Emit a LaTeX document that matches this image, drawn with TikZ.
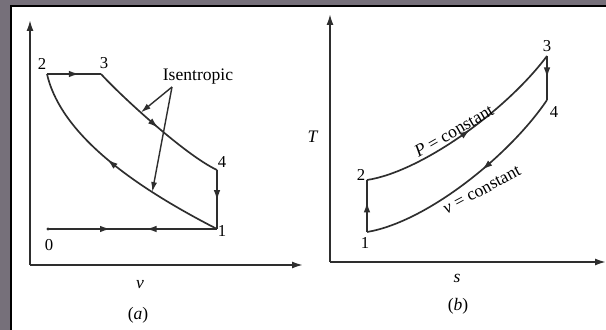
\documentclass[tikz,border=0pt]{standalone}
\usepackage{fontspec}
\setmainfont{Liberation Serif}
\usetikzlibrary{arrows.meta,decorations.markings}
\definecolor{framegrey}{HTML}{76707A}
\definecolor{inkline}{HTML}{2E2E2E}

\begin{document}
\begin{tikzpicture}[
  x=0.02cm, y=-0.02cm,
  >=Latex,
  curve/.style={draw=inkline, line width=0.95pt},
  axis/.style={-{Latex[length=2.2mm,width=1.4mm]}, draw=inkline, line width=1pt},
  leader/.style={-{Latex[length=2mm,width=1.2mm]}, draw=inkline, line width=0.8pt},
  midarrow/.style={postaction={decorate, decoration={markings, mark=at position #1 with {\arrow{Latex[length=2.1mm,width=1.3mm]}}}}},
  backarrow/.style={postaction={decorate, decoration={markings, mark=at position #1 with {\arrowreversed{Latex[length=2.1mm,width=1.3mm]}}}}},
  num/.style={font=\fontsize{9.5}{11}\selectfont, inner sep=1pt},
  note/.style={font=\fontsize{10}{12}\selectfont, inner sep=1pt}
]
\useasboundingbox (0,0) rectangle (606,330);

% frame
\fill[framegrey] (0,0) rectangle (606,330);
\fill[white] (11,6) rectangle (606,330);
\draw[black, line width=1pt] (11,330) -- (11,6) -- (606,6);

% (a) p-v diagram
\coordinate (oa) at (30,265);
\coordinate (yatop) at (30,20);
\coordinate (xaend) at (303,265);
\draw[axis] (oa) -- (yatop);
\draw[axis] (oa) -- (xaend);

\coordinate (p0a) at (48,229);
\coordinate (p1a) at (217,229);
\coordinate (p2a) at (47,74);
\coordinate (p3a) at (101,74);
\coordinate (p4a) at (217,170);

\draw[curve, midarrow=0.6] (p2a) -- (p3a);
\draw[curve, midarrow=0.52] (p3a) .. controls (120,95) and (185,155) .. (p4a) coordinate[pos=0.4] (hitup);
\draw[curve, midarrow=0.52] (p4a) -- (p1a);
\draw[curve, midarrow=0.55] (p1a) .. controls (147,193) and (62,140) .. (p2a) coordinate[pos=0.3] (hitlow);
\draw[curve, midarrow=0.37, backarrow=0.58] (p0a) -- (p1a);
\fill[inkline] (p0a) circle (1.6);

\node[note] (isen) at (198,77) {Isentropic};
\coordinate (apex) at (172,87);
\draw[leader] (apex) -- (hitup);
\draw[leader] (apex) -- (hitlow);

\node[num] (n0a) at (49,245) {0};
\node[num] (n1a) at (222,231) {1};
\node[num] (n2a) at (42,64) {2};
\node[num] (n3a) at (104,63) {3};
\node[num] (n4a) at (222,162) {4};
\node[note] (va) at (140,285) {\textit{v}};
\node[note] (capa) at (138,315) {(\textit{a})};

% (b) T-s diagram
\coordinate (ob) at (330,262);
\coordinate (ybtop) at (330,14);
\coordinate (xbend) at (606,262);
\draw[axis] (ob) -- (ybtop);
\draw[axis] (ob) -- (xbend);

\coordinate (p1b) at (367,232);
\coordinate (p2b) at (367,180);
\coordinate (p3b) at (547,56);
\coordinate (p4b) at (547,100);

\draw[curve, midarrow=0.58] (p1b) -- (p2b);
\draw[curve, midarrow=0.52] (p2b) .. controls (420,172) and (505,112) .. (p3b);
\draw[curve, midarrow=0.5] (p3b) -- (p4b);
\draw[curve, midarrow=0.42] (p4b) .. controls (510,155) and (427,222) .. (p1b);

\node[note, rotate=30] (pconst) at (454,131) {\textit{P} = constant};
\node[note, rotate=28] (vconst) at (482,190) {\textit{v} = constant};

\node[num] (n1b) at (365,243) {1};
\node[num] (n2b) at (361,175) {2};
\node[num] (n3b) at (547,46) {3};
\node[num] (n4b) at (554,112) {4};
\node[note] (tb) at (313,137) {\textit{T}};
\node[note] (sb) at (457,278) {\textit{s}};
\node[note] (capb) at (458,306) {(\textit{b})};

\end{tikzpicture}
\end{document}
